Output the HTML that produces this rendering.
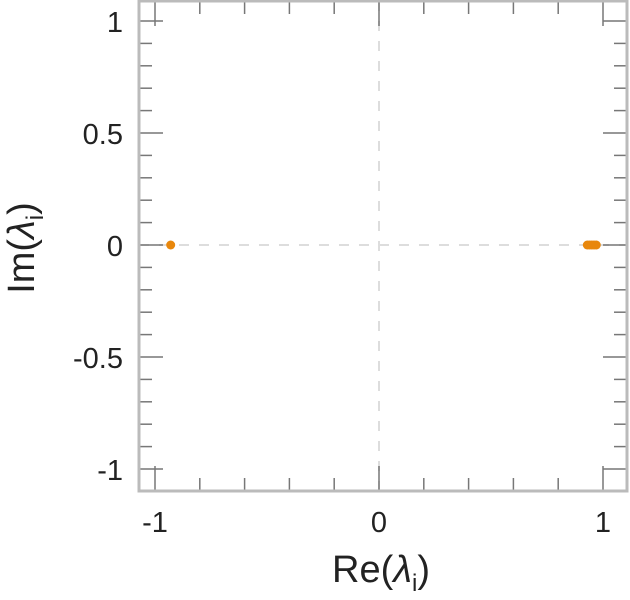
<!DOCTYPE html>
<html><head><meta charset="utf-8"><style>body{margin:0;background:#fff}svg{display:block}text{font-family:"Liberation Sans",sans-serif;fill:#222}</style></head>
<body>
<svg id="c" width="630" height="600"></svg>
<script>
const pointsRe = [-0.93, 0.93, 0.94, 0.95, 0.96, 0.97];
const pointsIm = [0, 0, 0, 0, 0, 0];
const xTickLabels = ["-1", "0", "1"];
const xTickValues = [-1, 0, 1];
const yTickLabels = ["1", "0.5", "0", "-0.5", "-1"];
const yTickValues = [1, 0.5, 0, -0.5, -1];
const L=139,R=627,T=1,B=491;
const sx=v=>379+224*v, sy=v=>245-224*v;
const svg=document.getElementById('c');const NS='http://www.w3.org/2000/svg';
function mk(t,a,p){const e=document.createElementNS(NS,t);for(const k in a)e.setAttribute(k,a[k]);(p||svg).appendChild(e);return e;}
let e;
e=mk('line',{x1:sx(0),x2:sx(0),y1:T,y2:B,stroke:'#ddd','stroke-width':2,'stroke-dasharray':'10,10'});


e=mk('line',{x1:L,x2:R,y1:sy(0),y2:sy(0),stroke:'#ddd','stroke-width':2,'stroke-dasharray':'10,10'});


for(let i=-5;i<=5;i++){const v=i*0.2,x=sx(v);const maj=Math.abs(v-Math.round(v))<1e-9;const len=maj?25:13;
 e=mk('line',{x1:x,x2:x,y1:B,y2:B-len,stroke:'#777','stroke-width':1.5});
 
 
 e=mk('line',{x1:x,x2:x,y1:T,y2:T+len,stroke:'#777','stroke-width':1.5});
 
 }
for(let i=-10;i<=10;i++){const v=i*0.1,y=sy(v);const maj=i%5===0;const len=maj?24:13;
 e=mk('line',{x1:L,x2:L+len,y1:y,y2:y,stroke:'#777','stroke-width':1.5});
 
 
 e=mk('line',{x1:R,x2:R-len,y1:y,y2:y,stroke:'#777','stroke-width':1.5});
 
 }
e=mk('rect',{x:L,y:T,width:R-L,height:B-T,fill:'none',stroke:'#bbb','stroke-width':3});


xTickLabels.forEach((s,i)=>{e=mk('text',{x:sx(xTickValues[i]),y:532,'text-anchor':'middle','font-size':29});e.textContent=s;
 
 });
yTickLabels.forEach((s,i)=>{e=mk('text',{x:123,y:sy(yTickValues[i])+11,'text-anchor':'end','font-size':29});e.textContent=s;
 
 });
pointsRe.forEach((r,i)=>{e=mk('circle',{cx:sx(r),cy:sy(pointsIm[i]),r:4.5,fill:'#e8870c'});
 
 });
e=mk('text',{x:381,y:582,'text-anchor':'middle','font-size':38});
e.innerHTML='Re(<tspan font-style="italic">λ</tspan><tspan font-size="24" dy="9">i</tspan><tspan dy="-9">)</tspan>';


e=mk('text',{x:0,y:0,'text-anchor':'middle','font-size':38,transform:'translate(34,248) rotate(-90)'});
e.innerHTML='Im(<tspan font-style="italic">λ</tspan><tspan font-size="24" dy="9">i</tspan><tspan dy="-9">)</tspan>';


</script>
</body></html>
